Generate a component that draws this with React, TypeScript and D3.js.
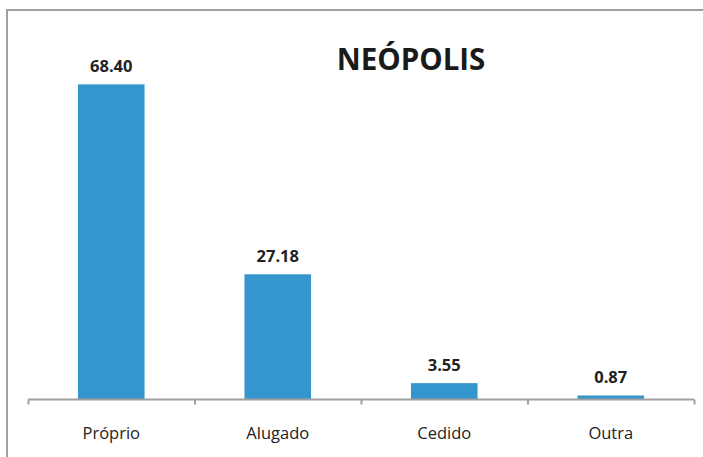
import React, { useEffect, useRef } from 'react';
import * as d3 from 'd3';

const categories = ['Próprio', 'Alugado', 'Cedido', 'Outra'];
const values = [68.4, 27.18, 3.55, 0.87];
const valueLabels = ['68.40', '27.18', '3.55', '0.87'];
const title = 'NEÓPOLIS';

const App = () => {
  const ref = useRef<SVGSVGElement>(null);

  useEffect(() => {
    const svg = d3.select(ref.current);
    svg.selectAll('*').remove();

    const width = 703;
    const height = 457;
    const left = 28;
    const right = 694;
    const base = 399.5;

    // outer frame (right and bottom fall outside the picture)
    svg.append('rect')
      .attr('x', 7)
      .attr('y', 10)
      .attr('width', width)
      .attr('height', height)
      .attr('fill', 'white')
      .attr('stroke', '#a0a0a0')
      .attr('stroke-width', 2);

    const x = d3.scaleBand().domain(categories).range([left, right]).paddingInner(0.6).paddingOuter(0.3);
    const y = d3.scaleLinear().domain([0, 70]).range([base, 77]);

    const data = categories.map((c, i) => ({ c, v: values[i], label: valueLabels[i] }));

    svg.selectAll('rect.bar')
      .data(data)
      .enter()
      .append('rect')
      .attr('class', 'bar')
      .attr('x', d => x(d.c)!)
      .attr('y', d => y(d.v))
      .attr('width', x.bandwidth())
      .attr('height', d => base - y(d.v))
      .attr('fill', '#3595cd');

    // category axis
    const axis = d3.axisBottom(
      d3.scaleLinear().domain([0, categories.length]).range([left, right])
    ).ticks(categories.length).tickSize(5).tickFormat(() => '');
    const g = svg.append('g').attr('transform', `translate(0,${base})`).call(axis);
    g.select('.domain').attr('stroke', '#a0a0a0').attr('stroke-width', 2).attr('d', `M${left},0H${right}`);
    g.selectAll('.tick line').attr('stroke', '#a0a0a0').attr('stroke-width', 2);

    svg.selectAll('text.cat')
      .data(data)
      .enter()
      .append('text')
      .attr('class', 'cat')
      .attr('x', d => x(d.c)! + x.bandwidth() / 2)
      .attr('y', 439)
      .attr('text-anchor', 'middle')
      .style('font-family', '"Open Sans", sans-serif')
      .style('font-size', '16.5px')
      .style('fill', '#222')
      .text(d => d.c);

    svg.selectAll('text.val')
      .data(data)
      .enter()
      .append('text')
      .attr('class', 'val')
      .attr('x', d => x(d.c)! + x.bandwidth() / 2)
      .attr('y', d => y(d.v) - 12)
      .attr('text-anchor', 'middle')
      .style('font-family', '"Open Sans", sans-serif')
      .style('font-weight', 'bold')
      .style('font-size', '16.5px')
      .style('fill', '#222')
      .text(d => d.label);

    svg.append('text')
      .attr('x', 411)
      .attr('y', 70)
      .attr('text-anchor', 'middle')
      .style('font-family', '"Open Sans", sans-serif')
      .style('font-weight', 'bold')
      .style('font-size', '29.5px')
      .style('fill', '#1a1a1a')
      .text(title);
  }, []);

  return (
    <svg ref={ref} width={703} height={457} style={{ position: 'absolute', left: 0, top: 0 }} />
  );
};

export default App;
